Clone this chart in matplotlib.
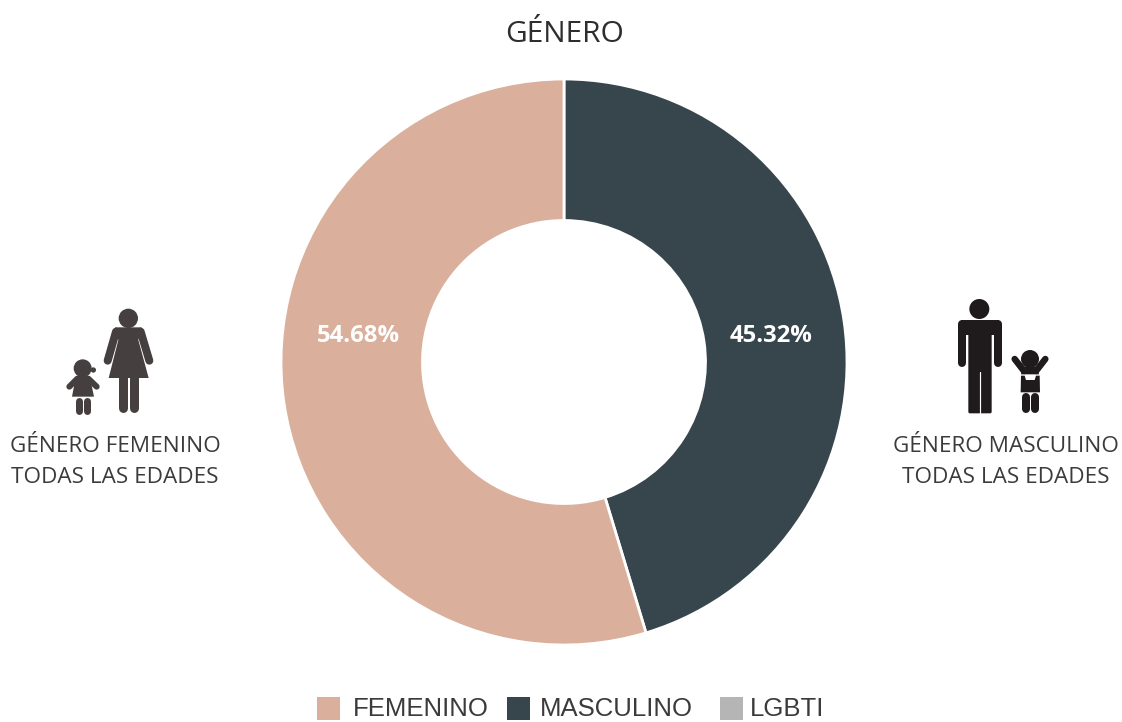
import matplotlib
matplotlib.use("Agg")
import matplotlib.pyplot as plt
from matplotlib.patches import Circle, Polygon, FancyBboxPatch, Rectangle

categories = ["MASCULINO", "FEMENINO"]
values = [45.32, 54.68]
value_labels = ["45.32%", "54.68%"]
legend_labels = ["FEMENINO", "MASCULINO", "LGBTI"]

color_fem = "#DAB09D"
color_masc = "#37464C"
color_lgbti = "#B5B5B5"
text_color = "#3C3A3B"

W, H = 1122, 722
plt.rcParams["font.family"] = ["Open Sans", "DejaVu Sans"]
fig = plt.figure(figsize=(W / 100, H / 100), dpi=100)

# dona
R = 283
cx, cy = 564, 362
ax = fig.add_axes([(cx - R) / W, 1 - (cy + R) / H, 2 * R / W, 2 * R / H])
ax.pie(values, colors=[color_masc, color_fem], startangle=90, counterclock=False,
       radius=1, wedgeprops=dict(width=0.5, edgecolor="white", linewidth=2))
ax.set_xlim(-1, 1)
ax.set_ylim(-1, 1)
ax.axis("off")

# capa en pixeles para textos, leyenda e iconos
bg = fig.add_axes([0, 0, 1, 1])
bg.set_xlim(0, W)
bg.set_ylim(H, 0)
bg.axis("off")

bg.text(565, 34, "GÉNERO", ha="center", va="center", fontsize=21.5, color="#2F2D2E")
bg.text(771, 336, value_labels[0], ha="center", va="center", fontsize=17.2, color="white", fontweight="bold")
bg.text(358, 336, value_labels[1], ha="center", va="center", fontsize=17.2, color="white", fontweight="bold")

bg.text(115, 462, "GÉNERO FEMENINO\nTODAS LAS EDADES", ha="center", va="center", fontsize=16.2,
        color=text_color, linespacing=1.65)
bg.text(1006, 462, "GÉNERO MASCULINO\nTODAS LAS EDADES", ha="center", va="center", fontsize=16.2,
        color=text_color, linespacing=1.65)

# leyenda
legend_x = [317, 507, 720]
legend_text_x = [353, 540, 750]
legend_colors = [color_fem, color_masc, color_lgbti]
for x, tx, c, lab in zip(legend_x, legend_text_x, legend_colors, legend_labels):
    bg.add_patch(Rectangle((x, 697), 23, 23, color=c, lw=0))
    bg.text(tx, 709, lab, ha="left", va="center", fontsize=18.5, color=text_color,
            family=["Liberation Sans", "DejaVu Sans"])


def px_line(x0, y0, pts, color, width):
    xs = [x0 + p[0] / 3 for p in pts]
    ys = [y0 + p[1] / 3 for p in pts]
    bg.plot(xs, ys, color=color, lw=width * 0.72, solid_capstyle="round", solid_joinstyle="round")


def px_poly(x0, y0, pts, color):
    bg.add_patch(Polygon([(x0 + p[0] / 3, y0 + p[1] / 3) for p in pts], closed=True, color=color, lw=0))


def px_circle(x0, y0, p, r, color):
    bg.add_patch(Circle((x0 + p[0] / 3, y0 + p[1] / 3), r / 3, color=color, lw=0))


# mujer y nina
c = "#453F40"
x0, y0 = 40, 290
px_circle(x0, y0, (265, 85), 29, c)
px_poly(x0, y0, [(225, 112), (305, 112), (295, 150), (326, 264), (206, 264), (235, 150)], c)
px_line(x0, y0, [(228, 125), (203, 212)], c, 8)
px_line(x0, y0, [(302, 125), (328, 212)], c, 8)
px_line(x0, y0, [(249, 265), (249, 355)], c, 9)
px_line(x0, y0, [(281, 265), (281, 355)], c, 9)
px_circle(x0, y0, (128, 235), 27, c)
px_circle(x0, y0, (160, 240), 8, c)
px_poly(x0, y0, [(108, 258), (149, 258), (162, 320), (96, 320)], c)
px_line(x0, y0, [(112, 266), (88, 290)], c, 6)
px_line(x0, y0, [(145, 266), (170, 290)], c, 6)
px_line(x0, y0, [(118, 332), (118, 363)], c, 7)
px_line(x0, y0, [(140, 332), (140, 363)], c, 7)

# hombre y nino
c = "#1F1A1B"
x0, y0 = 940, 285
px_circle(x0, y0, (118, 72), 30, c)
bg.add_patch(FancyBboxPatch((x0 + 85 / 3, y0 + 105 / 3), 70 / 3, 280 / 3,
                            boxstyle="round,pad=0,rounding_size=1.5", color=c, lw=0))
px_poly(x0, y0, [(62, 105), (178, 105), (178, 150), (62, 150)], c)
px_line(x0, y0, [(67, 118), (67, 235)], c, 8)
px_line(x0, y0, [(173, 118), (173, 235)], c, 8)
px_line(x0, y0, [(120, 260), (120, 385)], "white", 1.2)
px_circle(x0, y0, (270, 222), 27, c)
px_line(x0, y0, [(252, 258), (224, 222)], c, 6.5)
px_line(x0, y0, [(288, 258), (316, 222)], c, 6.5)
px_poly(x0, y0, [(248, 245), (292, 245), (297, 268), (243, 268)], c)
px_poly(x0, y0, [(243, 272), (254, 272), (258, 285), (284, 285), (288, 272), (299, 272), (300, 322), (242, 322)], c)
px_line(x0, y0, [(258, 335), (258, 372)], c, 8)
px_line(x0, y0, [(285, 335), (285, 372)], c, 8)

fig.savefig("out.png", dpi=100, facecolor="white")
